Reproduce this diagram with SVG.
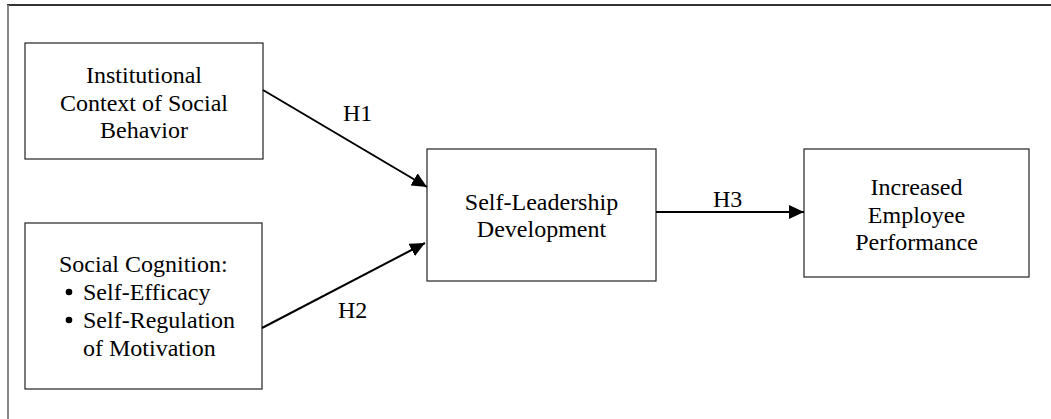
<svg xmlns="http://www.w3.org/2000/svg" width="1051" height="419" viewBox="0 0 1051 419">
<style>
.box{fill:#fff;stroke:#222;stroke-width:1.2}
.t{font-family:"Liberation Serif","Times New Roman",serif;font-size:24px;fill:#000}
.c{text-anchor:middle}
.conn{stroke:#000;stroke-width:2;fill:none}
.bullet{fill:#000}
</style>
<defs>
<marker id="ah" viewBox="0 0 15 14" refX="15" refY="7" markerWidth="15" markerHeight="14" markerUnits="userSpaceOnUse" orient="auto">
<path d="M0,0 L15,7 L0,14 Z" fill="#000"/>
</marker>
</defs>
<rect width="1051" height="419" fill="#fff"/>
<g id="frame">
<line x1="7" y1="5" x2="1051" y2="5" stroke="#333" stroke-width="2"/>
<line x1="8" y1="5" x2="8" y2="419" stroke="#888" stroke-width="2"/>
</g>
<g id="node-institutional">
<rect class="box" x="25" y="43" width="238" height="116"/>
<text class="t c" x="144" y="83">Institutional</text>
<text class="t c" x="144" y="111">Context of Social</text>
<text class="t c" x="144" y="138">Behavior</text>
</g>
<g id="node-cognition">
<rect class="box" x="25" y="223" width="237" height="166"/>
<text class="t" x="59" y="272">Social Cognition:</text>
<circle class="bullet" cx="69" cy="292" r="3.3"/>
<text class="t" x="83" y="300">Self-Efficacy</text>
<circle class="bullet" cx="69" cy="320" r="3.3"/>
<text class="t" x="83" y="328">Self-Regulation</text>
<text class="t" x="83" y="356">of Motivation</text>
</g>
<g id="node-selfleadership">
<rect class="box" x="427" y="149" width="229" height="132"/>
<text class="t c" x="541.5" y="210">Self-Leadership</text>
<text class="t c" x="541.5" y="237">Development</text>
</g>
<g id="node-performance">
<rect class="box" x="804" y="149" width="225" height="128"/>
<text class="t c" x="916.5" y="195">Increased</text>
<text class="t c" x="916.5" y="223">Employee</text>
<text class="t c" x="916.5" y="250">Performance</text>
</g>
<g id="connectors">
<line class="conn" x1="263" y1="90" x2="427" y2="187" marker-end="url(#ah)"/>
<line class="conn" x1="262" y1="328" x2="425" y2="243" marker-end="url(#ah)"/>
<line class="conn" x1="656" y1="212" x2="804" y2="212" marker-end="url(#ah)"/>
<text class="t" x="343" y="121">H1</text>
<text class="t" x="338" y="318">H2</text>
<text class="t" x="713" y="207">H3</text>
</g>
</svg>
